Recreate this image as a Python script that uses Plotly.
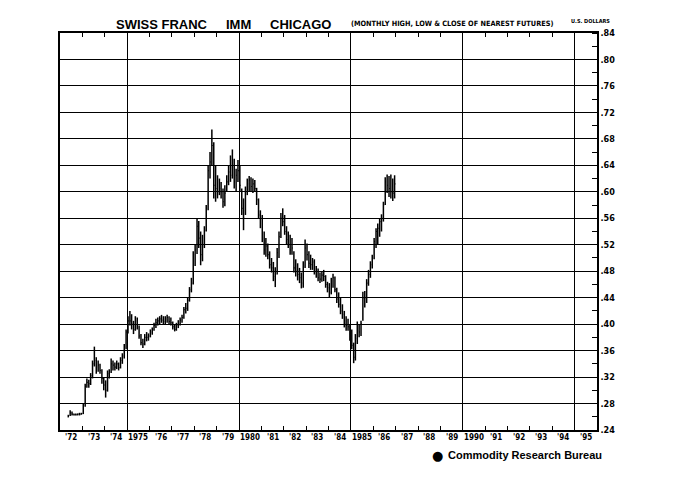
import pandas as pd
import plotly.graph_objects as go

# First contract month on the chart (IMM currency futures started May 1972)
first_month = "1972-05-01"

# Monthly high / low / close, U.S. dollars per franc
highs = [
    .263, .270, .268, .265, .265, .265, .266, .266,                          # 1972 May-Dec
    .280, .310, .318, .316, .326, .345, .366, .350, .345, .340, .332, .320,  # 1973
    .315, .330, .332, .348, .345, .342, .345, .342, .350, .356, .370, .392,  # 1974
    .412, .420, .415, .405, .412, .410, .398, .385, .378, .385, .388, .386,  # 1975
    .392, .395, .402, .408, .410, .412, .414, .412, .412, .414, .412, .410,  # 1976
    .404, .400, .402, .406, .410, .414, .426, .432, .440, .456, .470, .510,  # 1977
    .520, .560, .556, .540, .535, .548, .580, .640, .660, .694, .675, .640,  # 1978
    .625, .620, .615, .605, .610, .625, .640, .655, .664, .650, .635, .648,  # 1979
    .640, .605, .590, .608, .620, .624, .622, .620, .618, .606, .590, .572,  # 1980
    .565, .540, .530, .522, .510, .500, .494, .486, .515, .540, .568, .575,  # 1981
    .565, .548, .540, .535, .530, .510, .498, .492, .485, .478, .495, .528,  # 1982
    .522, .510, .505, .500, .498, .488, .484, .478, .480, .482, .474, .464,  # 1983
    .462, .470, .476, .472, .455, .448, .440, .430, .420, .412, .408, .400,  # 1984
    .392, .372, .385, .404, .400, .405, .449, .450, .468, .482, .495, .505,  # 1985
    .530, .545, .552, .560, .566, .585, .622, .626, .624, .626, .620, .625,  # 1986
]
lows = [
    .259, .261, .262, .262, .262, .262, .262, .263,
    .264, .275, .304, .304, .308, .318, .336, .325, .328, .325, .310, .300,
    .289, .298, .318, .326, .330, .330, .332, .330, .333, .340, .348, .362,
    .386, .398, .392, .385, .390, .392, .378, .368, .364, .368, .374, .375,
    .380, .384, .390, .394, .398, .400, .402, .400, .400, .402, .400, .398,
    .392, .389, .390, .394, .398, .402, .408, .416, .420, .434, .448, .460,
    .488, .506, .515, .489, .495, .515, .540, .572, .620, .640, .590, .585,
    .590, .595, .590, .576, .578, .600, .610, .615, .620, .605, .600, .615,
    .600, .565, .542, .565, .595, .600, .600, .598, .600, .580, .560, .545,
    .524, .505, .502, .498, .484, .478, .465, .456, .475, .500, .530, .548,
    .535, .520, .515, .505, .505, .478, .472, .466, .462, .454, .455, .485,
    .496, .485, .482, .482, .475, .470, .465, .462, .464, .465, .455, .448,
    .440, .445, .455, .448, .432, .425, .415, .408, .395, .390, .390, .375,
    .362, .341, .345, .370, .380, .382, .405, .425, .432, .458, .470, .484,
    .498, .515, .520, .532, .540, .555, .580, .598, .592, .590, .586, .590,
]
closes = [
    .261, .266, .264, .263, .263, .264, .264, .265,
    .277, .306, .312, .310, .322, .340, .345, .335, .338, .330, .318, .308,
    .300, .325, .328, .340, .338, .335, .340, .334, .345, .352, .365, .388,
    .405, .405, .400, .392, .405, .398, .382, .372, .370, .380, .380, .382,
    .388, .392, .398, .402, .405, .408, .406, .404, .408, .410, .404, .402,
    .396, .392, .398, .402, .406, .410, .422, .424, .436, .452, .462, .505,
    .512, .548, .530, .505, .520, .542, .575, .632, .645, .670, .610, .605,
    .600, .605, .600, .585, .598, .615, .630, .625, .640, .615, .625, .632,
    .610, .575, .560, .600, .612, .618, .608, .612, .605, .588, .565, .562,
    .530, .512, .518, .505, .490, .485, .472, .475, .508, .532, .560, .555,
    .540, .528, .520, .512, .515, .485, .480, .475, .470, .462, .488, .515,
    .505, .492, .490, .494, .480, .476, .470, .468, .474, .472, .460, .455,
    .448, .465, .470, .452, .438, .430, .420, .415, .400, .398, .396, .385,
    .368, .350, .378, .390, .388, .400, .440, .440, .462, .475, .490, .500,
    .525, .540, .545, .555, .560, .580, .615, .610, .605, .600, .598, .612,
]

# Year labels under the axis, one per calendar year
year_labels = ["'72", "'73", "'74", "1975", "'76", "'77", "'78", "'79",
               "1980", "'81", "'82", "'83", "'84", "1985", "'86", "'87",
               "'88", "'89", "1990", "'91", "'92", "'93", "'94", "'95"]

# Price scale on the right
price_ticks = [.24, .28, .32, .36, .40, .44, .48, .52, .56, .60, .64, .68, .72, .76, .80, .84]
price_labels = [".24", ".28", ".32", ".36", ".40", ".44", ".48", ".52",
                ".56", ".60", ".64", ".68", ".72", ".76", ".80", ".84"]


def main():
    months = pd.date_range(first_month, periods=len(highs), freq="MS") + pd.Timedelta(days=14)

    # high-low stems and close ticks, built as one broken line each
    stem_x, stem_y, tick_x, tick_y = [], [], [], []
    for d, h, l, c in zip(months, highs, lows, closes):
        stem_x += [d, d, None]
        stem_y += [l, h, None]
        tick_x += [d, d + pd.Timedelta(days=13), None]
        tick_y += [c, c, None]

    fig = go.Figure()
    fig.add_trace(go.Scatter(x=stem_x, y=stem_y, mode="lines",
                             line=dict(color="black", width=1.5), hoverinfo="skip"))
    fig.add_trace(go.Scatter(x=tick_x, y=tick_y, mode="lines",
                             line=dict(color="black", width=1.1), hoverinfo="skip"))

    narrow = "DejaVu Sans Condensed, Liberation Sans, sans-serif"

    fig.update_layout(
        width=681, height=496,
        margin=dict(l=52, r=92, t=25, b=74),
        paper_bgcolor="white", plot_bgcolor="white",
        showlegend=False,
        xaxis=dict(
            type="date",
            range=["1972-01-01", "1996-01-01"],
            tick0="1975-01-01", dtick="M60",
            showgrid=True, gridcolor="black", gridwidth=1.3,
            ticks="inside", ticklen=6, tickcolor="black",
            showticklabels=False,
            showline=True, linecolor="black", linewidth=1.5, mirror="ticks",
            zeroline=False,
            minor=dict(tick0="1972-01-01", dtick="M12", ticks="inside",
                       ticklen=4, tickcolor="black", showgrid=False),
        ),
        yaxis=dict(
            range=[0.24, 0.84],
            side="right",
            tickvals=price_ticks, ticktext=price_labels,
            showgrid=True, gridcolor="black", gridwidth=1.2,
            ticks="", showline=True, linecolor="black", linewidth=1.5, mirror=True,
            zeroline=False,
            tickfont=dict(family=narrow, size=9, color="black", weight="bold"),
            minor=dict(dtick=0.02, tick0=0.22, ticks="inside", ticklen=5,
                       tickcolor="black", showgrid=False),
        ),
    )

    # year labels centred in each year
    for i, lab in enumerate(year_labels):
        fig.add_annotation(x=f"{1972 + i}-07-01", y=0, xref="x", yref="paper",
                           yanchor="top", yshift=-1, showarrow=False, text=lab,
                           font=dict(family=narrow, size=8, color="black", weight="bold"))

    # headings
    head = dict(family="Liberation Sans", size=13, color="black", weight="bold")
    for txt, xpos in [("SWISS FRANC", 0.19), ("IMM", 0.333), ("CHICAGO", 0.447)]:
        fig.add_annotation(x=xpos, y=1.022, xref="paper", yref="paper", xanchor="center",
                           yanchor="middle", showarrow=False, text=txt, font=head)
    fig.add_annotation(x=0.73, y=1.024, xref="paper", yref="paper", xanchor="center",
                       yanchor="middle", showarrow=False,
                       text="(MONTHLY HIGH, LOW & CLOSE OF NEAREST FUTURES)",
                       font=dict(family=narrow, size=7.3, color="black", weight="bold"))
    fig.add_annotation(x=0.987, y=1.03, xref="paper", yref="paper", xanchor="center",
                       yanchor="middle", showarrow=False, text="U.S. DOLLARS",
                       font=dict(family=narrow, size=5.5, color="black", weight="bold"))

    # publisher mark bottom right
    fig.add_annotation(x=0.703, y=-0.063, xref="paper", yref="paper", showarrow=False,
                       xanchor="center", yanchor="middle", text="\u25CF",
                       font=dict(family="DejaVu Sans", size=13, color="black"))
    fig.add_annotation(x=0.718, y=-0.063, xref="paper", yref="paper", showarrow=False,
                       xanchor="left", yanchor="middle", text="Commodity Research Bureau",
                       font=dict(family="Liberation Sans", size=11, color="black", weight="bold"))

    fig.write_html("out.html")


if __name__ == "__main__": main()
